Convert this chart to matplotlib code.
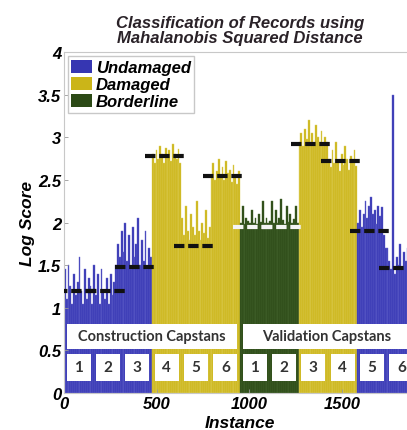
import matplotlib
matplotlib.use('Agg')
import matplotlib.pyplot as plt
import numpy as np
from matplotlib.patches import Rectangle, Patch
from matplotlib.ticker import FormatStrFormatter

# 1900 records, 12 capstans (6 construction + 6 validation)
n_records = 1900
capstan_no = [1, 2, 3, 4, 5, 6, 1, 2, 3, 4, 5, 6]
capstan_class = ['Undamaged', 'Undamaged', 'Undamaged', 'Damaged', 'Damaged', 'Damaged',
                 'Borderline', 'Borderline', 'Damaged', 'Damaged', 'Undamaged', 'Undamaged']
# threshold level drawn as a dashed line over each capstan
thresholds = [1.20, 1.20, 1.48, 2.78, 1.72, 2.55, 1.95, 1.95, 2.92, 2.72, 1.90, 1.47]

# log score (16 samples per capstan)
scores = [
    [1.45, 1.10, 1.50, 1.25, 1.05, 1.40, 1.15, 1.30, 1.60, 1.20, 1.05, 1.45, 1.10, 1.35, 1.25, 1.05],
    [1.50, 1.15, 1.40, 1.05, 1.45, 1.20, 1.10, 1.35, 1.05, 1.40, 1.15, 1.30, 1.50, 1.75, 1.60, 1.90],
    [1.65, 2.00, 1.55, 1.85, 1.45, 1.95, 1.60, 1.75, 2.05, 1.50, 1.80, 1.55, 1.90, 1.45, 1.70, 1.60],
    [2.80, 2.70, 2.85, 2.75, 2.90, 2.80, 2.70, 2.88, 2.78, 2.85, 2.72, 2.92, 2.80, 2.75, 2.86, 2.70],
    [2.05, 1.85, 2.20, 1.90, 1.80, 2.10, 1.95, 1.85, 2.25, 1.90, 1.80, 2.00, 1.88, 2.15, 1.82, 1.95],
    [2.55, 2.70, 2.50, 2.60, 2.75, 2.55, 2.65, 2.50, 2.72, 2.58, 2.62, 2.48, 2.68, 2.55, 2.45, 2.60],
    [2.00, 2.20, 1.98, 2.05, 2.02, 1.99, 2.15, 2.00, 2.05, 1.98, 2.10, 2.01, 2.25, 1.99, 2.05, 2.00],
    [2.02, 2.25, 1.99, 2.15, 2.00, 2.05, 2.28, 2.03, 1.98, 2.20, 2.01, 2.10, 1.99, 2.04, 2.20, 2.00],
    [2.95, 3.05, 2.90, 3.10, 2.98, 3.20, 2.95, 3.05, 2.92, 3.15, 3.00, 2.95, 3.08, 2.90, 3.00, 2.95],
    [2.75, 2.65, 2.85, 2.70, 2.95, 2.72, 2.60, 2.80, 2.68, 2.90, 2.74, 2.62, 2.78, 2.70, 2.85, 2.66],
    [2.00, 2.15, 1.95, 2.10, 2.25, 2.05, 2.20, 2.30, 2.10, 2.15, 1.98, 2.20, 2.08, 2.18, 1.85, 1.70],
    [1.70, 1.55, 1.45, 3.50, 1.40, 1.60, 1.50, 1.75, 1.45, 1.65, 1.55, 1.70, 1.50, 1.60, 1.48, 1.62],
]

colors = {'Undamaged': '#3636b2', 'Damaged': '#cbb518', 'Borderline': '#2c4a16'}
streaks = {'Undamaged': '#6a6ad0', 'Damaged': '#e0d060', 'Borderline': '#4a6a34'}
bold_it = dict(family='Liberation Sans', weight='bold', style='italic')

fig = plt.figure(figsize=(4.07, 4.31), dpi=100)
ax = fig.add_axes([0.1572, 0.0858, 0.8649, 0.791])

cw = n_records / len(scores)
for k, vals in enumerate(scores):
    start = k * cw
    step = cw / len(vals)
    x = start + step * (np.arange(len(vals)) + 0.5)
    cls = capstan_class[k]
    ax.bar(x, vals, width=step, color=colors[cls], edgecolor=streaks[cls], linewidth=0.3, zorder=1)
    lc = '#f4f4f4' if cls == 'Borderline' else '#111111'
    ax.plot([start - 40, start + cw + 12], [thresholds[k]] * 2, color=lc,
            lw=3.0, ls=(0, (2.5, 0.9)), zorder=3)

# capstan labels at the bottom
box_font = dict(family='Lato', weight='bold', color='#333333')
ax.add_patch(Rectangle((16, 0.52), 918, 0.29, facecolor='white', edgecolor='none', zorder=4))
ax.add_patch(Rectangle((966, 0.52), 1000, 0.29, facecolor='white', edgecolor='none', zorder=4))
ax.text(475, 0.665, 'Construction Capstans', ha='center', va='center', fontsize=10.5, zorder=5, **box_font)
ax.text(1420, 0.665, 'Validation Capstans', ha='center', va='center', fontsize=10.5, zorder=5, **box_font)
for k, num in enumerate(capstan_no):
    cx = (k + 0.5) * cw
    ax.add_patch(Rectangle((cx - 64, 0.14), 128, 0.32, facecolor='white', edgecolor='none', zorder=4))
    ax.text(cx, 0.30, str(num), ha='center', va='center', fontsize=11, zorder=5, **box_font)

ax.set_xlim(0, n_records)
ax.set_ylim(0, 4)
ax.set_xticks([0, 500, 1000, 1500])
ax.set_yticks(np.arange(0, 4.01, 0.5))
ax.yaxis.set_major_formatter(FormatStrFormatter('%g'))
ax.tick_params(direction='in', length=3, width=0.6, color='#999999', pad=2)
for lab in ax.get_xticklabels() + ax.get_yticklabels():
    lab.set(fontsize=12, **bold_it)
for s in ax.spines.values():
    s.set_color('#c8c8c8')
    s.set_linewidth(0.8)

ax.set_xlabel('Instance', fontsize=12.5, labelpad=3, **bold_it)
ax.set_ylabel('Log Score', fontsize=12.5, labelpad=2, **bold_it)
ax.set_title('Classification of Records using\nMahalanobis Squared Distance',
             fontsize=12, linespacing=1.0, pad=7, color='#2a2228', **bold_it)

handles = [Patch(facecolor=colors[c], edgecolor='none') for c in ['Undamaged', 'Damaged', 'Borderline']]
ax.legend(handles, ['Undamaged', 'Damaged', 'Borderline'], loc='upper left',
          prop=dict(size=12, **bold_it), fancybox=False, edgecolor='#c8c8c8',
          framealpha=1, borderaxespad=0.25, borderpad=0.2, handlelength=1.25,
          handleheight=0.85, handletextpad=0.2, labelspacing=0.1)

fig.savefig('out.png', dpi=100)
